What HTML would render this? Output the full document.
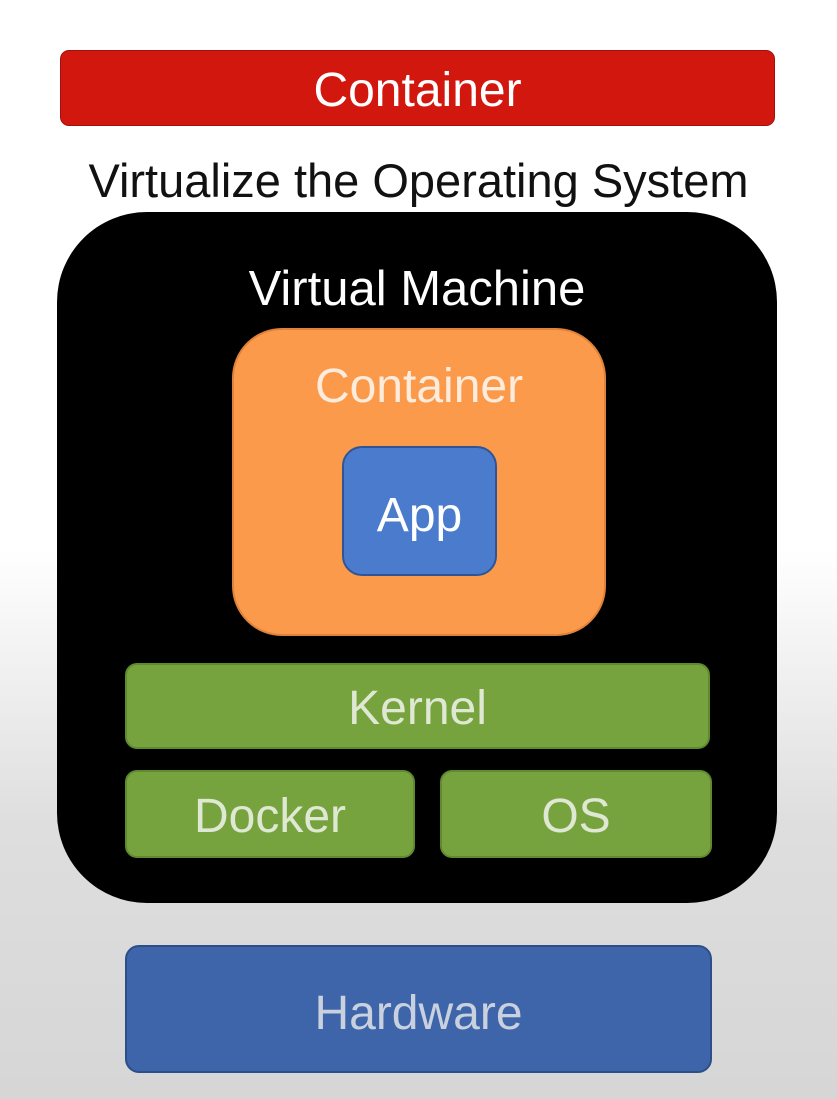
<!DOCTYPE html>
<html><head><meta charset="utf-8"><style>
html,body{margin:0;padding:0}
body{width:837px;height:1099px;position:relative;overflow:hidden;font-family:"Liberation Sans",sans-serif;background:linear-gradient(to bottom,#ffffff 0%,#ffffff 50%,#dedede 75%,#d6d6d6 100%)}
.b{position:absolute;box-sizing:border-box;display:flex;align-items:center;justify-content:center}
</style></head><body>
<div class="b" style="left:60px;top:50px;width:715px;height:76px;background:#d2170f;border:1px solid #a01010;border-radius:9px;color:#fff;font-size:48px;padding-top:4px">Container</div>
<div class="b" style="left:0;top:152px;width:837px;height:56px;color:#111;font-size:47px">Virtualize the Operating System</div>
<div class="b" style="left:57px;top:212px;width:720px;height:691px;background:#000;border-radius:90px"></div>
<div class="b" style="left:57px;top:263px;width:720px;height:52px;color:#fff;font-size:49px">Virtual Machine</div>
<div class="b" style="left:232px;top:328px;width:374px;height:308px;background:#fb9a4b;border:2px solid #e0823a;border-radius:50px"></div>
<div class="b" style="left:232px;top:360px;width:374px;height:52px;color:#fdebdc;font-size:48px">Container</div>
<div class="b" style="left:342px;top:446px;width:155px;height:130px;background:#4a7bcd;border:2px solid #2f5597;border-radius:20px;color:#fff;font-size:48px;padding-top:8px">App</div>
<div class="b" style="left:125px;top:663px;width:585px;height:86px;background:#77a33f;border:2px solid #5f8a30;border-radius:12px;color:#dfe8d2;font-size:48px;padding-top:4px">Kernel</div>
<div class="b" style="left:125px;top:770px;width:290px;height:88px;background:#77a33f;border:2px solid #5f8a30;border-radius:12px;color:#dfe8d2;font-size:48px;padding-top:4px">Docker</div>
<div class="b" style="left:440px;top:770px;width:272px;height:88px;background:#77a33f;border:2px solid #5f8a30;border-radius:12px;color:#dfe8d2;font-size:48px;padding-top:4px">OS</div>
<div class="b" style="left:125px;top:945px;width:587px;height:128px;background:#3e65a9;border:2px solid #2c4f8a;border-radius:14px;color:#c9d1df;font-size:48px;padding-top:8px">Hardware</div>
</body></html>
